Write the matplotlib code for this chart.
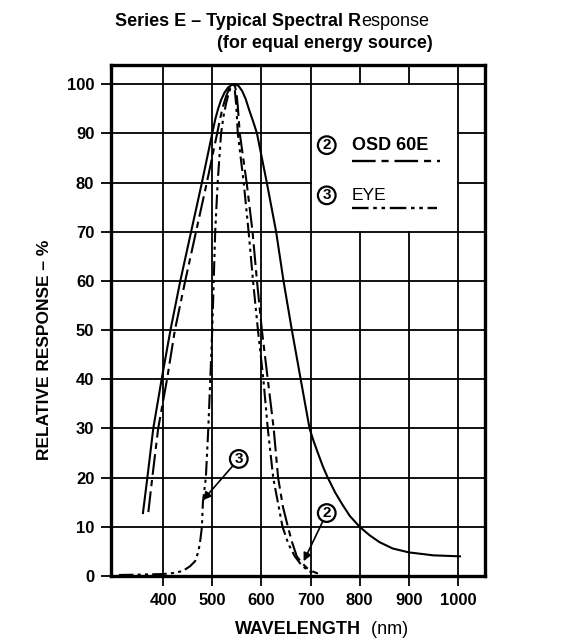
import matplotlib
matplotlib.use("Agg")
import matplotlib.pyplot as plt

plt.rcParams['font.family'] = ['Liberation Sans', 'DejaVu Sans']

# ---- data -------------------------------------------------------------
# Curve 1 (solid): broad silicon response
solid_wl = [359, 368, 380, 397, 415, 435, 457, 479, 500, 506, 512, 518, 525,
            532, 540, 547, 554, 561, 568, 575, 583, 591, 611, 630, 645, 662,
            680, 698, 706, 715, 725, 735, 750, 765, 780, 800, 820, 840, 867,
            900, 950, 1004]
solid_val = [12.8, 20, 30, 40, 50, 60, 70, 80, 90, 92.8, 95, 96.8, 98.3,
             99.3, 99.9, 100, 99.6, 98.6, 97, 94.8, 92.5, 90, 80, 70, 60, 50,
             40, 30, 27.5, 25, 22.3, 20, 17, 14.5, 12.2, 10, 8.3, 6.9, 5.6,
             4.8, 4.2, 4.0]

# Curve 2 (dashed): OSD 60E
osd_wl = [370, 378, 390, 408, 424, 445, 467, 489, 510, 516, 522, 528, 534,
          540, 545, 549, 552, 556, 570, 582, 591, 601, 613, 625, 634, 644,
          654, 662, 672, 682, 693, 705, 715]
osd_val = [13, 20, 30, 40, 50, 60, 70, 80, 90, 93, 95.5, 97.5, 99, 99.8, 100,
           98.5, 95.5, 90, 80, 70, 60, 50, 40, 30, 20, 14, 10, 7, 4, 2.7, 1.6,
           0.9, 0.5]

# Curve 3 (dash-dot): eye response
eye_wl = [310, 360, 400, 420, 440, 455, 465, 472, 476, 479, 481, 484, 487,
          492, 496, 500, 503, 506, 511, 518, 523, 528, 533, 538, 543, 546,
          549, 552, 564, 574, 583, 593, 604, 613, 624, 643, 655, 668, 680,
          690, 705]
eye_val = [0.2, 0.3, 0.4, 0.6, 1.0, 2.0, 3.0, 5.0, 7.5, 10, 15, 17.5, 20, 30,
           40, 50, 60, 70, 80, 90, 93.5, 96, 98, 99.5, 100, 98.7, 95.5, 90,
           80, 70, 60, 50, 40, 30, 20, 10, 6.5, 4, 2.4, 1.5, 0.5]

x_ticks = [400, 500, 600, 700, 800, 900, 1000]
y_ticks = [0, 10, 20, 30, 40, 50, 60, 70, 80, 90, 100]

# ---- figure -----------------------------------------------------------
W, H = 563, 643
fig = plt.figure(figsize=(W / 100, H / 100), dpi=100)
fig.patch.set_facecolor('white')
ax = fig.add_axes([111 / W, 1 - 576 / H, (485 - 111) / W, (576 - 65) / H])

X0, X1 = 294, 1055
Y0, Y1 = 0, 103.9
ax.set_xlim(X0, X1)
ax.set_ylim(Y0, Y1)

# grid, leaving the legend cell (700-1000, 70-100) clear
glw = 1.3
for y in y_ticks[1:]:
    if y in (80, 90):
        ax.plot([X0, 700], [y, y], color='black', lw=glw, zorder=1)
        ax.plot([1000, X1], [y, y], color='black', lw=glw, zorder=1)
    else:
        ax.plot([X0, X1], [y, y], color='black', lw=glw, zorder=1)
for x in x_ticks:
    if x in (800, 900):
        ax.plot([x, x], [Y0, 70], color='black', lw=glw, zorder=1)
        ax.plot([x, x], [100, Y1], color='black', lw=glw, zorder=1)
    else:
        ax.plot([x, x], [Y0, Y1], color='black', lw=glw, zorder=1)

# curves
dash_osd = (0, (10, 2.5, 3, 2.5))
dash_eye = (0, (7, 2, 1.5, 2, 1.5, 2))
ax.plot(solid_wl, solid_val, color='black', lw=1.5, zorder=3)
ax.plot(osd_wl, osd_val, color='black', lw=1.5, zorder=3, linestyle=dash_osd)
ax.plot(eye_wl, eye_val, color='black', lw=1.5, zorder=3, linestyle=dash_eye)

# axes styling
for s in ax.spines.values():
    s.set_linewidth(2.4)
    s.set_zorder(4)
ax.set_xticks(x_ticks)
ax.set_yticks(y_ticks)
ax.tick_params(direction='out', length=7, width=1.3, pad=5, labelsize=12)
for lab in ax.get_xticklabels() + ax.get_yticklabels():
    lab.set_fontweight('bold')

ax.set_ylabel('RELATIVE RESPONSE – %', fontsize=12.5, fontweight='bold')
ax.yaxis.set_label_coords((45 - 111) / 374, (576 - 350) / 511)
ax.yaxis.label.set_va('center')

# legend inside the cleared cell
circ = dict(boxstyle='circle,pad=0.12', fc='white', ec='black', lw=1.6)
ax.text(733, 87.6, '2', ha='center', va='center', fontsize=11,
        fontweight='bold', bbox=circ, zorder=5)
ax.text(784, 87.6, 'OSD 60E', ha='left', va='center', fontsize=13,
        fontweight='bold', zorder=5)
ax.plot([784, 963], [84.3, 84.3], color='black', lw=1.7, zorder=5,
        linestyle=dash_osd)
ax.text(733, 77.4, '3', ha='center', va='center', fontsize=11,
        fontweight='bold', bbox=circ, zorder=5)
ax.text(784, 77.4, 'EYE', ha='left', va='center', fontsize=12.5, zorder=5)
ax.plot([784, 957], [74.8, 74.8], color='black', lw=1.7, zorder=5,
        linestyle=dash_eye)

# callouts on the curves
arrow = dict(arrowstyle='-|>', lw=1.2, color='black', mutation_scale=12,
             shrinkA=0, shrinkB=0)
ax.annotate('3', xy=(481, 15.4), xytext=(554, 23.8), ha='center',
            va='center', fontsize=11, fontweight='bold', bbox=circ,
            arrowprops=arrow, zorder=5)
ax.annotate('2', xy=(686, 3.0), xytext=(733, 12.8), ha='center',
            va='center', fontsize=11, fontweight='bold', bbox=circ,
            arrowprops=arrow, zorder=5)

# title (mixed weights) and x-axis caption
fig.canvas.draw()
r = fig.canvas.get_renderer()
t1 = fig.text(115 / W, 1 - 22 / H, 'Series E – Typical Spectral R',
              ha='left', va='center', fontsize=13, fontweight='bold')
bb = t1.get_window_extent(r)
fig.text(bb.x1 / W, 1 - 22 / H, 'esponse', ha='left', va='center',
         fontsize=13)
fig.text(433 / W, 1 - 44 / H, '(for equal energy source)', ha='right',
         va='center', fontsize=13, fontweight='bold')

xl1 = fig.text(0, 1 - 630 / H, 'WAVELENGTH', ha='left', va='center',
               fontsize=13, fontweight='bold')
xl2 = fig.text(0, 1 - 630 / H, '  (nm)', ha='left', va='center', fontsize=13)
w1 = xl1.get_window_extent(r).width
w2 = xl2.get_window_extent(r).width
left = 322 - (w1 + w2) / 2
xl1.set_x(left / W)
xl2.set_x((left + w1) / W)

fig.savefig('out.png', dpi=100, facecolor='white')
